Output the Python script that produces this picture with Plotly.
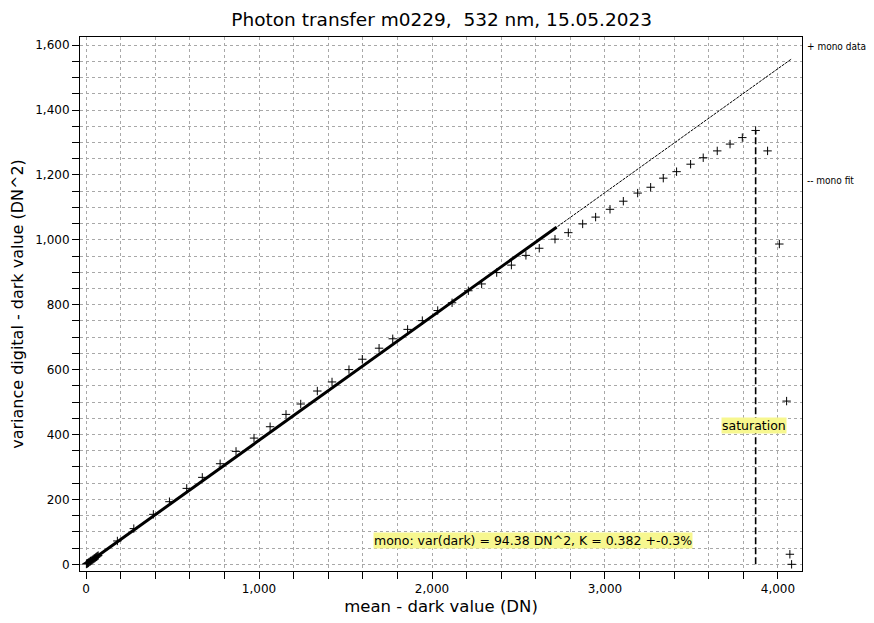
import plotly.graph_objects as go

# ---- data ----
mono_mean = [2, 5, 8, 11, 14, 18, 22, 26, 30, 35, 40, 45, 50, 55, 60, 65, 70,
             181, 276, 389, 482, 582, 672, 775, 867, 971, 1064, 1156, 1241, 1337,
             1422, 1520, 1597, 1694, 1773, 1859, 1944, 2033, 2116, 2210, 2287,
             2374, 2459, 2543, 2620, 2711, 2788, 2871, 2946, 3029, 3106, 3189,
             3264, 3337, 3414, 3495, 3568, 3649, 3723, 3794, 3871, 3940, 4008,
             4050, 4069, 4079]
mono_var = [1, 2, 3, 4, 5, 7, 8, 10, 11, 13, 15, 17, 19, 21, 23, 25, 27,
            72, 110, 154, 193, 234, 268, 310, 348, 389, 424, 462, 494, 534,
            562, 600, 632, 666, 695, 724, 751, 782, 806, 843, 864,
            899, 922, 952, 974, 1002, 1022, 1049, 1070, 1094, 1119, 1144,
            1162, 1190, 1210, 1233, 1253, 1274, 1295, 1315, 1337, 1274, 987,
            503, 31, 0]

fit_range_x = [0, 2720]
fit_range_y = [0, 1039]
fit_full_x = [0, 4080]
fit_full_y = [0, 1558]

saturation_x = [3871, 3871]
saturation_y = [0, 1337]

x_tickvals = list(range(0, 4001, 200))
x_ticktext = ["0" if v == 0 else (f"{v:,}" if v % 1000 == 0 else "") for v in x_tickvals]
y_tickvals = list(range(0, 1601, 50))
y_ticktext = [f"{v:,}" if v % 200 == 0 else "" for v in y_tickvals]

title_text = "Photon transfer m0229,  532 nm, 15.05.2023"
fit_label = "mono: var(dark) = 94.38 DN^2, K = 0.382 +-0.3%"

FONT = "DejaVu Sans, sans-serif"
FONT_NARROW = "DejaVu Sans Condensed, DejaVu Sans, sans-serif"

fig = go.Figure()
fig.add_trace(go.Scatter(x=fit_full_x, y=fit_full_y, mode="lines",
                         line=dict(color="black", width=1, dash="3px,1px"),
                         name="mono fit", showlegend=False, hoverinfo="skip"))
fig.add_trace(go.Scatter(x=fit_range_x, y=fit_range_y, mode="lines",
                         line=dict(color="black", width=3),
                         name="mono fit range", showlegend=False, hoverinfo="skip"))
fig.add_trace(go.Scatter(x=saturation_x, y=saturation_y, mode="lines",
                         line=dict(color="black", width=1.6, dash="7px,3px"),
                         name="saturation", showlegend=False))
fig.add_trace(go.Scatter(x=mono_mean, y=mono_var, mode="markers",
                         marker=dict(symbol="cross-thin", size=6,
                                     line=dict(color="black", width=1)),
                         name="mono data", showlegend=False))

axis_common = dict(showline=True, linecolor="black", linewidth=1, mirror=True,
                   ticks="outside", ticklen=7, tickcolor="black", automargin=False,
                   showgrid=True, gridcolor="#a8a8a8", griddash="dot", gridwidth=1,
                   zeroline=False, tickfont=dict(size=12, color="black", family=FONT))

fig.update_xaxes(range=[-35, 4139], tickmode="array", tickvals=x_tickvals,
                 ticktext=x_ticktext, title_text="mean - dark value (DN)",
                 title_font=dict(size=16.5, color="black", family=FONT),
                 title_standoff=5, **axis_common)
fig.update_yaxes(range=[-20.6, 1625], tickmode="array", tickvals=y_tickvals,
                 ticktext=y_ticktext, title_text="variance digital - dark value (DN^2)",
                 title_font=dict(size=16, color="black", family=FONT),
                 title_standoff=8, **axis_common)

fig.add_annotation(x=2584, y=72, xref="x", yref="y", text=fit_label, showarrow=False,
                   bgcolor="#f7f78f", font=dict(size=12.5, color="black", family=FONT),
                   borderpad=0)
fig.add_annotation(x=3860, y=428, xref="x", yref="y", text="saturation", showarrow=False,
                   bgcolor="#f7f78f", font=dict(size=12.5, color="black", family=FONT),
                   borderpad=0)
fig.add_annotation(x=1.004, y=1595, xref="paper", yref="y", xanchor="left",
                   text="+ mono data", showarrow=False,
                   font=dict(size=10, color="black", family=FONT_NARROW))
fig.add_annotation(x=1.004, y=1182, xref="paper", yref="y", xanchor="left",
                   text="-- mono fit", showarrow=False,
                   font=dict(size=10, color="black", family=FONT_NARROW))

# the page body adds an 8px margin, so the figure is sized to fill the window
fig.update_layout(
    width=866, height=615,
    margin=dict(l=72, r=72, t=29, b=52, autoexpand=False),
    paper_bgcolor="white", plot_bgcolor="white",
    title=dict(text=title_text, x=0.5008, xanchor="center", y=0.9805, yanchor="middle",
               font=dict(size=18.5, color="black", family=FONT)),
    showlegend=False,
)

fig.write_html("out.html")
